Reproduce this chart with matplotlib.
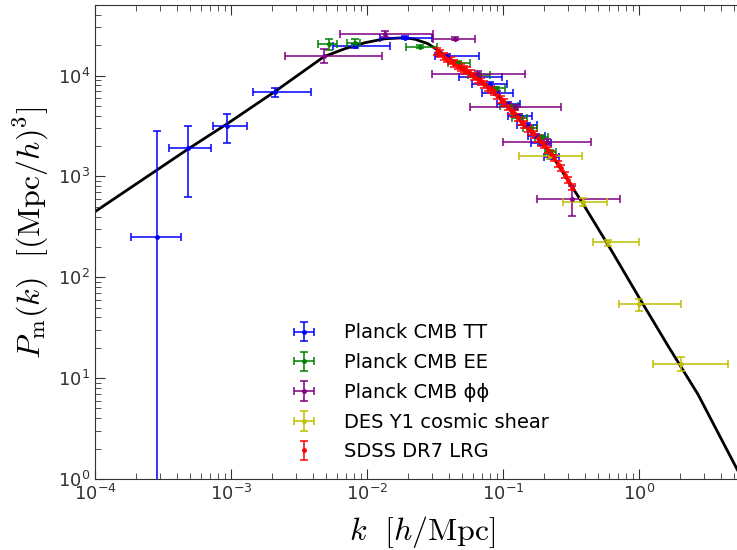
import numpy as np
import matplotlib
matplotlib.use("Agg")
import matplotlib.pyplot as plt

plt.rcParams['mathtext.fontset'] = 'cm'
plt.rcParams['font.family'] = 'DejaVu Sans'

# theory curve
k_th = [1.0e-4, 2.86e-4, 4.83e-4, 9.51e-4, 2.11e-3, 4.83e-3, 6.89e-3, 9.667e-3, 0.01356,
        0.01903, 0.02253, 0.02809, 0.03441, 0.05435, 0.08443, 0.1334, 0.1778, 0.2332,
        0.3217, 0.3873, 0.6329, 1.017, 1.634, 2.716, 5.26, 7.76]
P_th = [446.9, 1159, 1866, 3366, 6957, 15390, 18450, 21140, 23150,
        23680, 22890, 20670, 17240, 11200, 7116, 3686, 2450, 1556,
        788, 535.8, 180.4, 60.7, 20.9, 6.9, 1.25, 0.48]

# Planck CMB TT
tt_k = [2.86e-4, 4.83e-4, 9.35e-4, 2.11e-3, 8.17e-3, 0.01903, 0.03874, 0.06548, 0.08024,
        0.09034, 0.1088, 0.1311, 0.1501, 0.1748, 0.1903, 0.2254]
tt_klo = [1.84e-4, 3.50e-4, 7.38e-4, 1.45e-3, 5.62e-3, 0.01246, 0.03162, 0.04748, 0.05916,
          0.07005, 0.09034, 0.1088, 0.1267, 0.1527, 0.1606, 0.2002]
tt_khi = [4.28e-4, 7.13e-4, 1.31e-3, 3.87e-3, 0.01476, 0.03005, 0.06659, 0.09831, 0.1070,
          0.1184, 0.1334, 0.1633, 0.1778, 0.2036, 0.2254, 0.2582]
tt_P = [248, 1910, 3145, 6810, 19750, 23680, 15740, 9775, 8154,
        6647, 5180, 3946, 3217, 2506, 2138, 1556]
tt_err = [2557, 1280, 1000, 750, 1000, 800, 700, 450, 380,
          300, 230, 180, 150, 110, 100, 70]

# Planck CMB EE
ee_k = [5.26e-3, 8.17e-3, 0.02453, 0.04668, 0.06548, 0.08882, 0.1126, 0.1334, 0.1580, 0.1903, 0.2216]
ee_klo = [4.37e-3, 7.13e-3, 0.01936, 0.03941, 0.05527, 0.07756, 0.0951, 0.1165, 0.1403, 0.1719, 0.2036]
ee_khi = [6.01e-3, 8.89e-3, 0.03273, 0.05719, 0.08024, 0.1034, 0.1289, 0.1501, 0.1778, 0.2142, 0.2453]
ee_P = [20670, 21140, 19310, 13430, 10230, 7446, 4950, 3771, 3005, 2450, 1744]
ee_err = [2600, 1700, 600, 500, 400, 300, 200, 160, 130, 110, 80]

# Planck CMB phi-phi
pp_k = [4.83e-3, 0.01356, 0.04437, 0.06548, 0.1225, 0.2106, 0.3217]
pp_klo = [2.49e-3, 6.32e-3, 0.03055, 0.03005, 0.05719, 0.1, 0.1778]
pp_khi = [0.01288, 0.03055, 0.0622, 0.1451, 0.2670, 0.4437, 0.7247]
pp_P = [15740, 25930, 23150, 10460, 4838, 2187, 600]
pp_err = [2450, 1800, 800, 600, 300, 150, 195]

# DES Y1 cosmic shear
des_k = [0.2216, 0.3875, 0.5917, 1.0, 2.036]
des_klo = [0.1311, 0.2762, 0.4590, 0.7125, 1.267]
des_khi = [0.3810, 0.5817, 1.0, 2.036, 4.512]
des_P = [1592, 560.9, 221.2, 54.0, 13.9]
des_err = [100, 50, 15, 7.5, 2.2]

# SDSS DR7 LRG
lrg_k = [0.03271, 0.03441, 0.03683, 0.03874, 0.04146, 0.04362, 0.04668, 0.04911, 0.05166,
         0.05435, 0.05816, 0.06118, 0.06548, 0.06887, 0.07246, 0.07756, 0.08161, 0.08585,
         0.09034, 0.09667, 0.1017, 0.1088, 0.1145, 0.1205, 0.1289, 0.1356, 0.1427, 0.1527,
         0.1606, 0.1690, 0.1809, 0.1903, 0.2002, 0.2142, 0.2254, 0.2371, 0.2538, 0.2670,
         0.2857, 0.3005, 0.3217]
lrg_P = [17240, 16470, 15390, 14710, 14050, 13130, 12550, 11990, 11460,
         11200, 10460, 9775, 9133, 8728, 8154, 7618, 7280, 6957,
         6353, 5800, 5420, 4950, 4521, 4223, 3857, 3523, 3291, 3005,
         2807, 2623, 2395, 2187, 2043, 1825, 1666, 1521, 1328, 1213,
         1035, 923.8, 788]
lrg_err = [1300, 1250, 1150, 1100, 1050, 980, 940, 900, 860,
           840, 780, 730, 680, 650, 610, 570, 540, 520,
           470, 430, 400, 370, 340, 310, 290, 260, 245, 225,
           210, 195, 180, 165, 150, 135, 125, 115, 100, 90,
           78, 70, 60]

labels = ["Planck CMB TT", "Planck CMB EE", "Planck CMB \u03d5\u03d5",
          "DES Y1 cosmic shear", "SDSS DR7 LRG"]


def xerrs(k, lo, hi):
    k = np.array(k)
    return [k - np.array(lo), np.array(hi) - k]


fig = plt.figure(figsize=(7.37, 5.5), dpi=100)
# the right end of the axes runs past the picture edge, as in the original
ax = fig.add_axes([95/737, 71/550, 680/737, 474/550])

ax.plot(k_th, P_th, color="black", lw=2.0, zorder=1)

kw = dict(fmt=".", ms=5, elinewidth=1.1, capsize=3, capthick=1.1)
h1 = ax.errorbar(tt_k, tt_P, yerr=tt_err, xerr=xerrs(tt_k, tt_klo, tt_khi), color="#0000ff", **kw)
h2 = ax.errorbar(ee_k, ee_P, yerr=ee_err, xerr=xerrs(ee_k, ee_klo, ee_khi), color="#008000", **kw)
h3 = ax.errorbar(pp_k, pp_P, yerr=pp_err, xerr=xerrs(pp_k, pp_klo, pp_khi), color="#800080", **kw)
h4 = ax.errorbar(des_k, des_P, yerr=des_err, xerr=xerrs(des_k, des_klo, des_khi), color="#bfbf00", **kw)
h5 = ax.errorbar(lrg_k, lrg_P, yerr=lrg_err, color="#ff0000", **kw)

ax.set_xscale("log")
ax.set_yscale("log")
ax.set_xticks([1e-4, 1e-3, 1e-2, 1e-1, 1e0])
ax.set_xlim(1e-4, 1e1)
ax.set_ylim(1, 5e4)

ax.tick_params(which="both", direction="in", top=True, right=True,
               labelsize=13, colors="#333333")
ax.tick_params(which="major", length=7)
ax.tick_params(which="minor", length=4)
for s in ax.spines.values():
    s.set_color("#333333")

ax.set_xlabel(r"$k\ \ [h/{\rm Mpc}]$", fontsize=23)
ax.set_ylabel(r"$P_{\rm m}(k)\ \ [({\rm Mpc}/h)^3]$", fontsize=23)
ax.xaxis.set_label_coords(0.481, -0.074)
ax.yaxis.set_label_coords(-0.065, 0.52)

ax.legend([h1, h2, h3, h4, h5], labels,
          loc="upper left", bbox_to_anchor=(267/737, 1 - 306/550),
          bbox_transform=fig.transFigure, frameon=False, fontsize=14,
          handlelength=2, handletextpad=1.05, labelspacing=0.55)

fig.savefig("out.png", dpi=100)
